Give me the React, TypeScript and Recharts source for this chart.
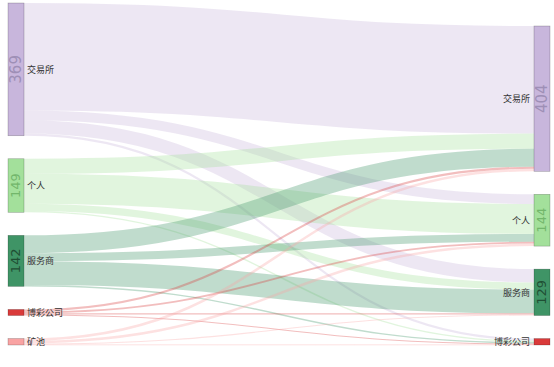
import { Sankey } from 'recharts'

const nodeNames = ['交易所', '个人', '服务商', '博彩公司', '矿池', '交易所', '个人', '服务商', '博彩公司']
const nodeColors = ['#c8b6dc', '#a3e09b', '#3f9466', '#d93a3a', '#f9a3a3', '#c8b6dc', '#a3e09b', '#3f9466', '#d93a3a']
const numberColors = ['#9e8fb6', '#72b66b', '#1f4f34', '#8a1f1f', '#c07070', '#9e8fb6', '#72b66b', '#1f4f34', '#8a1f1f']

const linkSources = [0, 0, 0, 0, 1, 1, 1, 1, 2, 2, 2, 2, 3, 3, 3, 3, 4, 4, 4, 4]
const linkTargets = [5, 6, 7, 8, 5, 6, 7, 8, 5, 6, 7, 8, 5, 6, 7, 8, 5, 6, 7, 8]
const linkValues = [299, 27, 37, 6, 42, 83, 20, 4, 50, 22, 66, 4, 6, 5, 3, 3, 7, 7, 3, 1]

const data = {
  nodes: nodeNames.map(name => ({ name })),
  links: linkValues.map((value, i) => ({ source: linkSources[i], target: linkTargets[i], value })),
}

const SankeyNode = (props: any) => {
  const { x, y, width, height, index, payload } = props
  const isLeft = x < 200
  const cx = x + width / 2
  const cy = y + height / 2
  return (
    <g>
      <rect
        x={x}
        y={y}
        width={width}
        height={height}
        fill={nodeColors[index]}
        stroke="rgba(0,0,0,0.3)"
        strokeWidth={0.6}
      />
      {height > 20 && (
        <text
          x={cx}
          y={cy}
          transform={`rotate(-90 ${cx} ${cy})`}
          textAnchor="middle"
          dominantBaseline="central"
          fontSize={height > 100 ? 15 : 13}
          fontFamily="DejaVu Sans, sans-serif"
          fill={numberColors[index]}
        >
          {payload.value}
        </text>
      )}
      <text
        x={isLeft ? x + width + 3 : x - 4}
        y={cy}
        textAnchor={isLeft ? 'start' : 'end'}
        dominantBaseline="central"
        fontSize={9}
        fontFamily="Noto Sans CJK SC, sans-serif"
        fill="#333"
      >
        {payload.name}
      </text>
    </g>
  )
}

const SankeyLink = (props: any) => {
  const { sourceX, targetX, sourceY, targetY, sourceControlX, targetControlX, linkWidth, index } = props
  const color = nodeColors[linkSources[index]]
  return (
    <path
      d={`M${sourceX},${sourceY} C${sourceControlX},${sourceY} ${targetControlX},${targetY} ${targetX},${targetY}`}
      fill="none"
      stroke={color}
      strokeWidth={Math.max(linkWidth, 1)}
      strokeOpacity={0.33}
    />
  )
}

export default function App() {
  return (
    <div style={{ position: 'absolute', left: 0, top: 0, width: 554, height: 367, background: '#fff' }}>
      <Sankey
        width={554}
        height={367}
        data={data}
        nodeWidth={16}
        nodePadding={23}
        sort={false}
        margin={{ top: 3, right: 4, bottom: 22, left: 8 }}
        node={<SankeyNode />}
        link={<SankeyLink />}
      />
    </div>
  )
}
